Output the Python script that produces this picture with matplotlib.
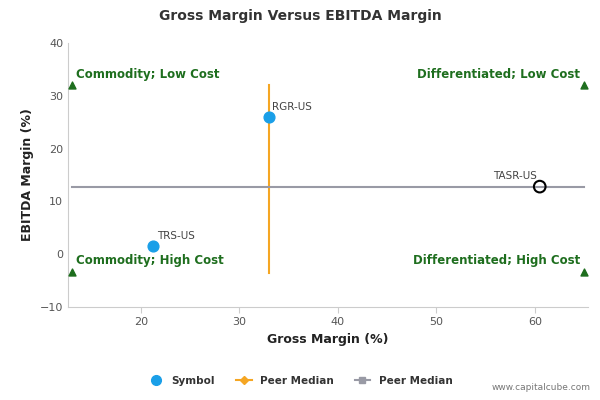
import matplotlib
matplotlib.use("Agg")
import matplotlib.pyplot as plt
from matplotlib.lines import Line2D

names = ["RGR-US", "TRS-US", "TASR-US"]
gross = [33.0, 21.2, 60.5]
ebitda = [26.0, 1.5, 12.8]
median_x = 33.0
median_y = 12.8
x_range = [13, 65]
y_range = [-3.5, 32]
quad_labels = ["Commodity; Low Cost", "Differentiated; Low Cost", "Commodity; High Cost", "Differentiated; High Cost"]

fig = plt.figure(figsize=(6, 4), dpi=100)
ax = fig.add_axes([68/600, 93/400, 520/600, 264/400])
ax.set_xlim(12.6, 65.4)
ax.set_ylim(-10, 40)
ax.set_yticks([-10, 0, 10, 20, 30, 40])
ax.set_xticks([20, 30, 40, 50, 60])
for s in ["top", "right"]:
    ax.spines[s].set_visible(False)
ax.spines["left"].set_color("#cccccc")
ax.spines["bottom"].set_color("#cccccc")
ax.tick_params(colors="#555555", labelsize=8, length=0)
ax.tick_params(axis="x", length=4, color="#cccccc")

ax.plot([median_x, median_x], y_range, color="#f5a623", lw=1.5, zorder=2)
ax.plot(x_range, [median_y, median_y], color="#999aa5", lw=1.5, zorder=2)

ax.scatter(gross[:2], ebitda[:2], s=60, color="#1a9fe8", zorder=3)
ax.scatter(gross[2:], ebitda[2:], s=70, facecolor="none", edgecolor="black", lw=1.5, zorder=3)
offs = [(0.3, 1.0, "left"), (0.4, 1.0, "left"), (-0.3, 1.0, "right")]
for n, x, y, (dx, dy, ha) in zip(names, gross, ebitda, offs):
    ax.text(x + dx, y + dy, n, fontsize=7.5, color="#444444", ha=ha, va="bottom")

tx = [x_range[0], x_range[1], x_range[0], x_range[1]]
ty = [y_range[1], y_range[1], -3.3, -3.3]
has = ["left", "right", "left", "right"]
ax.scatter(tx, ty, marker="^", color="#1e6e1e", s=25, zorder=3, clip_on=False)
for lab, x, y, ha in zip(quad_labels, tx, ty, has):
    ax.text(x + (0.4 if ha == "left" else -0.4), y + 0.8, lab, color="#1e6e1e",
            fontsize=8.5, fontweight="bold", ha=ha, va="bottom")

ax.set_xlabel("Gross Margin (%)", fontsize=9, fontweight="bold", color="#222222")
ax.set_ylabel("EBITDA Margin (%)", fontsize=9, fontweight="bold", color="#222222")
fig.text(0.5, 0.96, "Gross Margin Versus EBITDA Margin", ha="center", va="center",
         fontsize=10, fontweight="bold", color="#333333")

handles = [
    Line2D([], [], marker="o", color="#1a9fe8", ls="none", markersize=7),
    Line2D([], [], marker="D", color="#f5a623", markersize=4, lw=1.5),
    Line2D([], [], marker="s", color="#999aa5", markersize=5, lw=1.5),
]
fig.legend(handles, ["Symbol", "Peer Median", "Peer Median"], loc="center",
           bbox_to_anchor=(0.5, 0.048), ncol=3, frameon=False,
           prop={"size": 7.5, "weight": "bold"}, labelcolor="#333333", handlelength=1.5)
fig.text(0.985, 0.02, "www.capitalcube.com", ha="right", va="bottom", fontsize=6.5, color="#777777")
fig.savefig("out.png", dpi=100)
